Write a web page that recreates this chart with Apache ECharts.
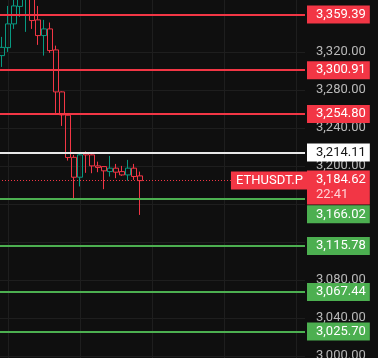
<!DOCTYPE html>
<html><head><meta charset="utf-8">
<script src="https://cdn.jsdelivr.net/npm/echarts@6/dist/echarts.min.js"></script>
<style>html,body{margin:0;padding:0;background:#0f0f0f;}#c{width:378px;height:358px;}</style>
</head><body><div id="c"></div>
<script>
// ---- data ----
const slotCount = 51; // visible bar slots (candles + empty right margin)
const opens  = [3316.2,3324.6,3349.6,3368.0,3383.0,3390.0,3353.8,3337.3,3344.3,3322.2,3278.0,3253.5,3209.1,3188.2,3213.3,3211.7,3200.1,3199.4,3194.1,3197.7,3194.1,3190.6,3197.7,3189.6];
const closes = [3324.9,3349.6,3368.5,3383.0,3395.0,3353.1,3337.3,3344.3,3321.5,3278.0,3253.8,3208.9,3188.2,3211.7,3211.7,3200.1,3198.5,3194.9,3197.7,3193.5,3190.6,3197.7,3188.9,3184.62];
const lows   = [3304.3,3320.1,3344.3,3357.0,3341.2,3344.3,3327.5,3316.2,3319.1,3255.9,3242.2,3205.7,3165.4,3178.5,3192.8,3192.4,3193.5,3175.6,3188.9,3187.2,3189.6,3184.6,3185.4,3148.5];
const highs  = [3335.9,3368.5,3381.0,3392.0,3402.0,3398.0,3368.5,3353.8,3351.0,3326.7,3278.5,3253.8,3211.7,3213.8,3215.4,3212.2,3204.6,3199.6,3210.6,3202.2,3200.1,3206.4,3202.2,3194.1];
const redLevels   = [3359.39, 3300.91, 3254.80];
const whiteLevels = [3214.11];
const greenLevels = [3166.02, 3115.78, 3067.44, 3025.70];
const lastPrice = 3184.62;
const symbolName = 'ETHUSDT.P';
const countdown = '22:41';
const yTickMin = 2960, yTickMax = 3400, yTickStep = 40;

// ---- chart ----
const RED = '#f23645', GREEN = '#4caf50', TEAL = '#089981', WHITE = '#e8e8e8';
const FONT = 'Roboto';
const categories = Array.from({length: slotCount}, (_, i) => String(i));
const candles = opens.map((o, i) => [o, closes[i], lows[i], highs[i]]);
const allLevels = redLevels.concat(whiteLevels, greenLevels, [lastPrice]);
const fmt = v => Number(v).toLocaleString('en-US', {minimumFractionDigits: 2, maximumFractionDigits: 2});
// scale labels that collide with a level tag are hidden (as the price scale does)
const tickFmt = v => allLevels.some(l => Math.abs(l - v) < 10) ? '' : fmt(v);
const badge = (bg, fg, extra) => Object.assign({
  show: true, position: 'end', distance: 2, backgroundColor: bg, color: fg,
  fontFamily: FONT, fontSize: 13, lineHeight: 14, padding: [2, 4, 2, 9]
}, extra || {});

const mlData = [];
redLevels.forEach(v => mlData.push({yAxis: v, lineStyle: {color: RED, width: 2, type: 'solid'}, label: badge(RED, '#fff', {formatter: fmt(v)})}));
whiteLevels.forEach(v => mlData.push({yAxis: v, lineStyle: {color: WHITE, width: 2, type: 'solid'}, label: badge('#ffffff', '#131313', {formatter: fmt(v)})}));
greenLevels.forEach((v, i) => mlData.push({yAxis: v, lineStyle: {color: GREEN, width: 2, type: 'solid'}, label: badge(GREEN, '#fff', {formatter: fmt(v), offset: i === 0 ? [0, 16] : [0, 0]})}));
// last price: dotted line + symbol tag inside, price + countdown tag outside
mlData.push({yAxis: lastPrice, lineStyle: {color: RED, width: 1, type: [1, 2]},
  label: {show: true, position: 'insideEnd', distance: 0, offset: [2, 0], backgroundColor: RED, color: '#fff', fontFamily: FONT, fontSize: 13, lineHeight: 14, padding: [2, 4, 2, 5], formatter: symbolName}});
mlData.push({yAxis: lastPrice, lineStyle: {color: 'rgba(0,0,0,0)', width: 1},
  label: {show: true, position: 'end', distance: 2, backgroundColor: RED, padding: [2, 4, 2, 9], offset: [0, 7],
    formatter: '{a|' + fmt(lastPrice) + '}\n{b|' + countdown + '}',
    rich: {a: {color: '#fff', fontFamily: FONT, fontSize: 13, lineHeight: 15}, b: {color: '#ffd2d6', fontFamily: FONT, fontSize: 13, lineHeight: 15}}}});

const chart = echarts.init(document.getElementById('c'), null, {renderer: 'canvas'});
chart.setOption({
  backgroundColor: '#0f0f0f',
  animation: false,
  grid: {left: -1, width: 306, top: -24, height: 418, outerBoundsMode: 'none', containLabel: false},
  xAxis: {
    type: 'category', data: categories, boundaryGap: true,
    axisLine: {show: false}, axisTick: {show: false}, axisLabel: {show: false},
    splitLine: {show: true, alignWithLabel: true, interval: i => i % 12 === 1, lineStyle: {color: '#1e1e1e', width: 1}}
  },
  yAxis: {
    type: 'value', position: 'right', min: yTickMin, max: yTickMax, interval: yTickStep,
    axisLine: {show: false}, axisTick: {show: false},
    axisLabel: {margin: 11, color: '#b8b8b8', fontFamily: FONT, fontSize: 13, padding: [2, 0, 0, 0], formatter: tickFmt},
    splitLine: {show: true, lineStyle: {color: '#1e1e1e', width: 1}}
  },
  series: [{
    type: 'candlestick', data: candles, barWidth: 5, clip: false,
    itemStyle: {color: 'transparent', color0: 'transparent', borderColor: TEAL, borderColor0: RED, borderWidth: 1},
    markLine: {symbol: ['none', 'none'], silent: true, animation: false, data: mlData}
  }]
});
</script></body></html>
